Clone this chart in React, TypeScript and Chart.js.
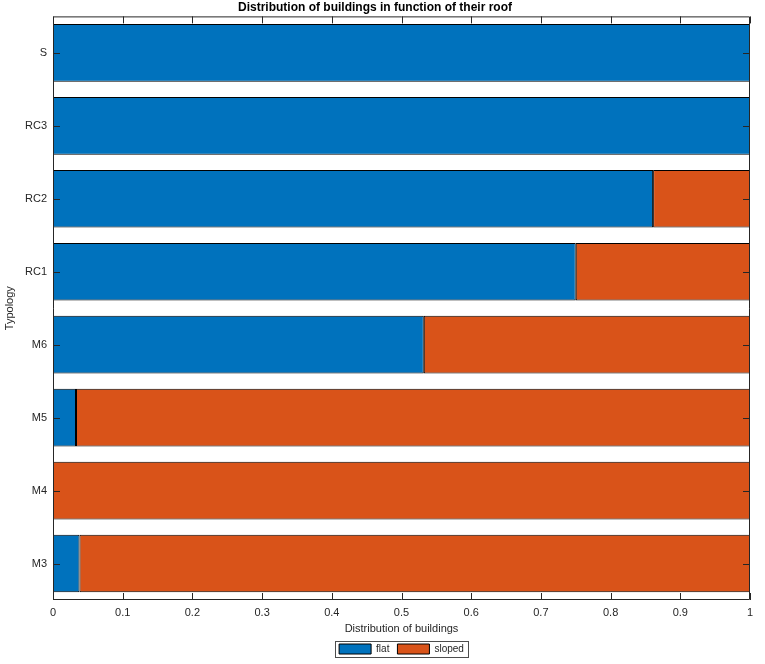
import { useEffect, useRef } from "react";
import { Chart, registerables } from "chart.js";

Chart.register(...registerables);

const typologies = ["S", "RC3", "RC2", "RC1", "M6", "M5", "M4", "M3"];
const flatShare = [1, 1, 0.861, 0.75, 0.532, 0.033, 0, 0.038];
const slopedShare = [0, 0, 0.139, 0.25, 0.468, 0.967, 1, 0.962];
const xTicks = [0, 0.1, 0.2, 0.3, 0.4, 0.5, 0.6, 0.7, 0.8, 0.9, 1];

const AXIS_COLOR = "#262626";
const FONT = "'Liberation Sans', Arial, Helvetica, sans-serif";

// matlab-like box with ticks pointing inwards, plus a frame round the legend
const boxPlugin = {
    id: "matlabBox",
    afterDraw(chart: any) {
        const { ctx, chartArea } = chart;
        const { left, right, top, bottom } = chartArea;
        const xs = chart.scales.x;
        const ys = chart.scales.y;
        ctx.save();
        ctx.strokeStyle = AXIS_COLOR;
        ctx.lineWidth = 1;
        ctx.beginPath();
        ctx.rect(left + 0.5, top + 0.5, right - left - 1, bottom - top - 1);
        xs.ticks.forEach((t: any) => {
            const x = Math.round(xs.getPixelForValue(t.value)) + 0.5;
            ctx.moveTo(x, bottom);
            ctx.lineTo(x, bottom - 7);
            ctx.moveTo(x, top);
            ctx.lineTo(x, top + 7);
        });
        typologies.forEach((_, i) => {
            const y = Math.round(ys.getPixelForValue(i)) + 0.5;
            ctx.moveTo(left, y);
            ctx.lineTo(left + 7, y);
            ctx.moveTo(right, y);
            ctx.lineTo(right - 7, y);
        });
        ctx.stroke();

        const boxes = chart.legend?.legendHitBoxes;
        if (boxes && boxes.length) {
            const first = boxes[0];
            const last = boxes[boxes.length - 1];
            const l = first.left - 4;
            const r = last.left + last.width + 4;
            const t = first.top - 3;
            const b = first.top + first.height + 3;
            ctx.strokeStyle = "#4d4d4d";
            ctx.strokeRect(Math.round(l) + 0.5, Math.round(t) + 0.5, Math.round(r - l), Math.round(b - t));
        }
        ctx.restore();
    },
};

const RoofChart = () => {
    const canvasRef = useRef<HTMLCanvasElement>(null);

    useEffect(() => {
        if (!canvasRef.current) return;
        const chart = new Chart(canvasRef.current, {
            type: "bar",
            data: {
                labels: typologies,
                datasets: [
                    {
                        label: "flat",
                        data: flatShare,
                        backgroundColor: "#0072BD",
                        borderColor: "#000000",
                        borderWidth: 1,
                        borderSkipped: false,
                        categoryPercentage: 0.79,
                        barPercentage: 1,
                    },
                    {
                        label: "sloped",
                        data: slopedShare,
                        backgroundColor: "#D95319",
                        borderColor: "#000000",
                        borderWidth: 1,
                        borderSkipped: false,
                        categoryPercentage: 0.79,
                        barPercentage: 1,
                    },
                ],
            },
            options: {
                indexAxis: "y",
                responsive: false,
                animation: false,
                layout: { padding: { left: 0, right: 15, top: 0, bottom: 0 } },
                scales: {
                    x: {
                        type: "linear",
                        stacked: true,
                        min: 0,
                        max: 1,
                        afterBuildTicks: (scale: any) => {
                            scale.ticks = xTicks.map((v) => ({ value: v }));
                        },
                        afterFit: (scale: any) => {
                            scale.height = 36;
                        },
                        grid: { display: false, drawTicks: false },
                        border: { display: false },
                        ticks: {
                            padding: 6,
                            color: AXIS_COLOR,
                            font: { family: FONT, size: 11 },
                            callback: (v: any) => String(Math.round(Number(v) * 10) / 10),
                        },
                        title: {
                            display: true,
                            text: "Distribution of buildings",
                            color: AXIS_COLOR,
                            font: { family: FONT, size: 11 },
                            padding: { top: 1, bottom: 0 },
                        },
                    },
                    y: {
                        type: "category",
                        stacked: true,
                        afterFit: (scale: any) => {
                            scale.width = 53;
                        },
                        grid: { display: false, drawTicks: false },
                        border: { display: false },
                        ticks: {
                            padding: 6,
                            color: AXIS_COLOR,
                            font: { family: FONT, size: 11 },
                        },
                        title: {
                            display: true,
                            text: "Typology",
                            color: AXIS_COLOR,
                            font: { family: FONT, size: 11 },
                            padding: { top: 3, bottom: 0 },
                        },
                    },
                },
                plugins: {
                    title: {
                        display: true,
                        text: "Distribution of buildings in function of their roof",
                        color: "#000000",
                        font: { family: FONT, size: 12, weight: "bold" },
                        padding: { top: 0, bottom: 2 },
                    },
                    legend: {
                        position: "bottom",
                        fullSize: false,
                        labels: {
                            boxWidth: 32,
                            boxHeight: 10,
                            padding: 8,
                            color: AXIS_COLOR,
                            font: { family: FONT, size: 10 },
                        },
                    },
                    tooltip: { enabled: false },
                },
            },
            plugins: [boxPlugin],
        });
        return () => {
            chart.destroy();
        };
    }, []);

    return (
        <div style={{ position: "absolute", left: 0, top: 0, width: "765px", height: "664px", background: "#fff" }}>
            <canvas ref={canvasRef} width={765} height={664}></canvas>
        </div>
    );
};

export default function App() {
    return <RoofChart />;
}
